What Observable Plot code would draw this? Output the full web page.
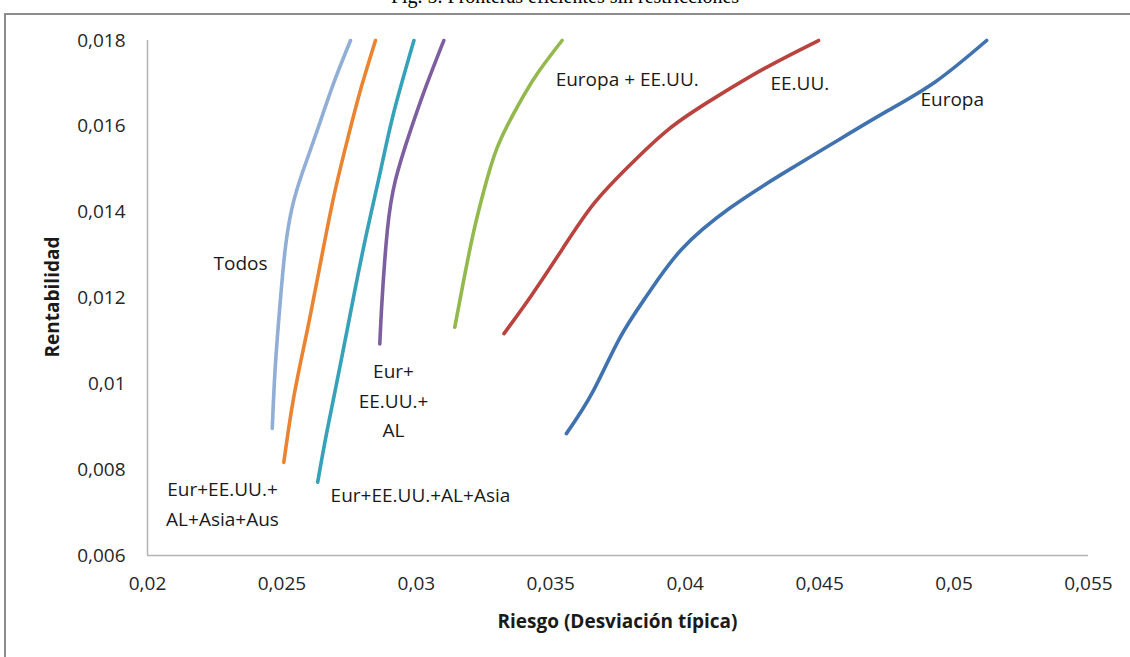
<!DOCTYPE html>
<html><head><meta charset="utf-8">
<script src="https://cdn.jsdelivr.net/npm/d3@7"></script>
<script src="https://cdn.jsdelivr.net/npm/@observablehq/plot@0.6"></script>
<style>
body{margin:0;background:#fff;}
#wrap{position:relative;width:1130px;height:657px;overflow:hidden;background:#fff;}
#frame{position:absolute;left:4px;top:13px;width:1140px;height:670px;border:2px solid #8c8c8c;box-sizing:border-box;}
#title{position:absolute;left:0;width:1130px;top:-15px;text-align:center;font-family:"Liberation Serif","Times New Roman",serif;font-size:20px;color:#000;white-space:nowrap;}
#chart{position:absolute;left:0;top:0;}
.axt{position:absolute;font-family:"Open Sans",sans-serif;font-weight:bold;font-size:19px;color:#1a1a1a;white-space:nowrap;}
#xt{left:0;width:1235px;text-align:center;top:608px;}
#yt{left:52px;top:297px;transform:translate(-50%,-50%) rotate(-90deg);}
</style></head>
<body><div id="wrap">
<div id="title">Fig. 5. Fronteras eficientes sin restricciones</div>
<div id="frame"></div>
<div id="chart"></div>
<div class="axt" id="xt">Riesgo (Desviación típica)</div>
<div class="axt" id="yt">Rentabilidad</div>
</div>
<script>
// Axis ticks
const xTicks = [0.02, 0.025, 0.03, 0.035, 0.04, 0.045, 0.05, 0.055];
const yTicks = [0.006, 0.008, 0.01, 0.012, 0.014, 0.016, 0.018];

// Series (riesgo, rentabilidad)
const seriesNames = ["Todos", "Eur+EE.UU.+AL+Asia+Aus", "Eur+EE.UU.+AL+Asia", "Eur+EE.UU.+AL", "Europa + EE.UU.", "EE.UU.", "Europa"];
const seriesColors = ["#90AED6", "#EB8430", "#35A2B9", "#7D5FA0", "#93B84E", "#B9433F", "#3F72AF"];

const todosX = [0.02464, 0.02476, 0.02495, 0.02513, 0.02538, 0.02575, 0.02631, 0.02692, 0.02755];
const todosY = [0.00896, 0.01047, 0.01201, 0.01318, 0.01411, 0.01490, 0.01590, 0.01700, 0.01800];

const ausX = [0.02507, 0.02544, 0.02594, 0.02643, 0.02692, 0.02743, 0.02792, 0.02848];
const ausY = [0.00817, 0.00969, 0.01124, 0.01280, 0.01434, 0.01567, 0.01684, 0.01800];

const asiaX = [0.02633, 0.02668, 0.02718, 0.02766, 0.02817, 0.02867, 0.02915, 0.02991];
const asiaY = [0.00771, 0.00891, 0.01047, 0.01201, 0.01357, 0.01497, 0.01630, 0.01800];

const alX = [0.02864, 0.02873, 0.02892, 0.02922, 0.02978, 0.03040, 0.03102];
const alY = [0.01093, 0.01201, 0.01357, 0.01474, 0.01590, 0.01700, 0.01800];

const euusX = [0.03143, 0.03176, 0.03214, 0.03251, 0.03301, 0.03375, 0.03449, 0.03542];
const euusY = [0.01132, 0.01241, 0.01357, 0.01450, 0.01551, 0.01645, 0.01722, 0.01800];

const usX = [0.03326, 0.03428, 0.03544, 0.03658, 0.03785, 0.03938, 0.04104, 0.04295, 0.04496];
const usY = [0.01117, 0.01206, 0.01315, 0.01418, 0.01504, 0.01593, 0.01664, 0.01735, 0.01800];

const euX = [0.03558, 0.03655, 0.03756, 0.03860, 0.03986, 0.04165, 0.04358, 0.04548, 0.04741, 0.04931, 0.05121];
const euY = [0.00884, 0.00980, 0.01106, 0.01208, 0.01313, 0.01409, 0.01488, 0.01560, 0.01632, 0.01704, 0.01800];

// Annotation labels
const labelText = ["Todos", "Eur+\nEE.UU.+\nAL", "Eur+EE.UU.+\nAL+Asia+Aus", "Eur+EE.UU.+AL+Asia", "Europa + EE.UU.", "EE.UU.", "Europa"];
const labelX = [0.02346, 0.02915, 0.02279, 0.02681, 0.03518, 0.04317, 0.04875];
const labelY = [0.01287, 0.00966, 0.00726, 0.00747, 0.01716, 0.01707, 0.01670];
const labelAnchor = ["middle", "middle", "middle", "start", "start", "start", "start"];

const seriesX = [todosX, ausX, asiaX, alX, euusX, usX, euX];
const seriesY = [todosY, ausY, asiaY, alY, euusY, usY, euY];

const rows = [];
seriesNames.forEach((name, k) => seriesX[k].forEach((x, i) => rows.push({serie: name, x, y: seriesY[k][i]})));
const labels = labelText.map((t, i) => ({t, x: labelX[i], y: labelY[i], a: labelAnchor[i]}));

const fmt = d => String(d).replace(".", ",");

const chart = Plot.plot({
  width: 1130, height: 657,
  marginTop: 40, marginBottom: 102, marginLeft: 147, marginRight: 42,
  style: {background: "transparent", fontFamily: "'Open Sans', sans-serif", fontSize: "19px", color: "#262626"},
  x: {domain: [xTicks[0], xTicks[xTicks.length - 1]]},
  y: {domain: [yTicks[0], yTicks[yTicks.length - 1]]},
  color: {domain: seriesNames, range: seriesColors},
  marks: [
    Plot.axisX({ticks: xTicks, tickFormat: fmt, tickSize: 0, tickPadding: 21, label: null}),
    Plot.axisY({ticks: yTicks, tickFormat: fmt, tickSize: 0, tickPadding: 22, label: null}),
    Plot.ruleX([xTicks[0]], {stroke: "#b3b3b3", strokeWidth: 1.5}),
    Plot.ruleY([yTicks[0]], {stroke: "#b3b3b3", strokeWidth: 1.5}),
    Plot.line(rows, {x: "x", y: "y", z: "serie", stroke: "serie", strokeWidth: 3.6, curve: "natural", strokeLinecap: "round"}),
    ...["middle", "start"].map(anc => Plot.text(labels.filter(d => d.a === anc), {x: "x", y: "y", text: "t", textAnchor: anc, lineHeight: 1.55, fill: "#1a1a1a", fontSize: 19}))
  ]
});
document.getElementById("chart").appendChild(chart);
</script>
</body></html>
